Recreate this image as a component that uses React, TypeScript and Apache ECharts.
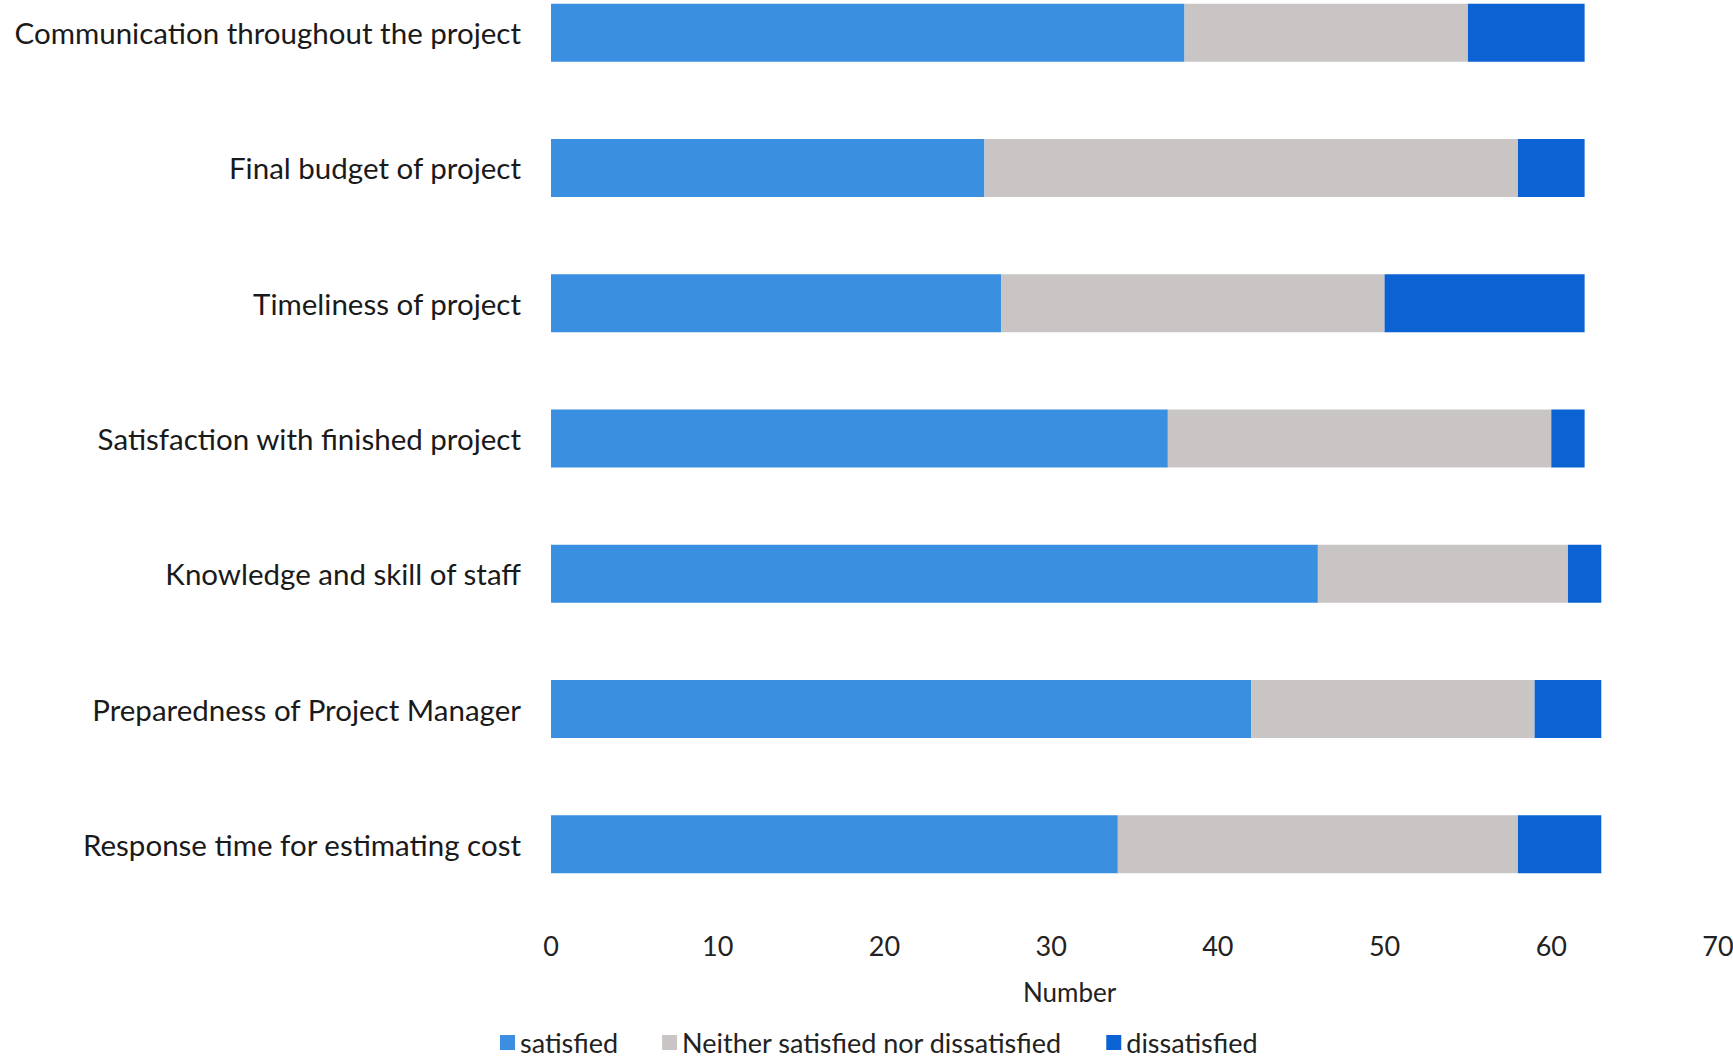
import React, { useEffect, useRef } from "react";
import * as echarts from "echarts";

const categories = [
  "Communication throughout the project",
  "Final budget of project",
  "Timeliness of project",
  "Satisfaction with finished project",
  "Knowledge and skill of staff",
  "Preparedness of Project Manager",
  "Response time for estimating cost",
];
const satisfied = [38, 26, 27, 37, 46, 42, 34];
const neither = [17, 32, 23, 23, 15, 17, 24];
const dissatisfied = [7, 4, 12, 2, 2, 4, 5];
const xTicks = [0, 10, 20, 30, 40, 50, 60, 70];

const FONT = "Lato";

export default function App() {
  const ref = useRef<HTMLDivElement>(null);
  useEffect(() => {
    document.body.style.margin = "0";
    const chart = echarts.init(ref.current!, null, { renderer: "svg" });
    chart.setOption({
      animation: false,
      backgroundColor: "#ffffff",
      grid: { left: 551, right: 15, top: -35, height: 947, outerBoundsMode: "none", containLabel: false },
      xAxis: {
        type: "value",
        min: xTicks[0],
        max: xTicks[xTicks.length - 1],
        interval: 10,
        splitLine: { show: false },
        axisLine: { show: false },
        axisTick: { show: false },
        axisLabel: { fontFamily: FONT, fontSize: 27, color: "#222", margin: 20 },
      },
      yAxis: {
        type: "category",
        data: categories,
        inverse: true,
        axisLine: { show: false },
        axisTick: { show: false },
        axisLabel: { fontFamily: FONT, fontSize: 29.5, color: "#1a1a1a", margin: 30 },
      },
      legend: {
        top: 1024,
        left: 495,
        itemWidth: 15,
        itemHeight: 15,
        itemGap: 44,
        icon: "rect",
        textStyle: { fontFamily: FONT, fontSize: 27, color: "#222" },
        data: ["satisfied", "Neither satisfied nor dissatisfied", "dissatisfied"],
      },
      graphic: [
        {
          type: "text",
          left: 1023,
          top: 979,
          style: { text: "Number", font: `26px ${FONT}`, fill: "#222" },
        },
      ],
      series: [
        { name: "satisfied", type: "bar", stack: "s", data: satisfied, barWidth: 58, itemStyle: { color: "#3a8fe0" } },
        { name: "Neither satisfied nor dissatisfied", type: "bar", stack: "s", data: neither, barWidth: 58, itemStyle: { color: "#c9c5c5" } },
        { name: "dissatisfied", type: "bar", stack: "s", data: dissatisfied, barWidth: 58, itemStyle: { color: "#0b62d2" } },
      ],
    });
    return () => chart.dispose();
  }, []);
  return <div ref={ref} style={{ width: 1733, height: 1058 }} />;
}
